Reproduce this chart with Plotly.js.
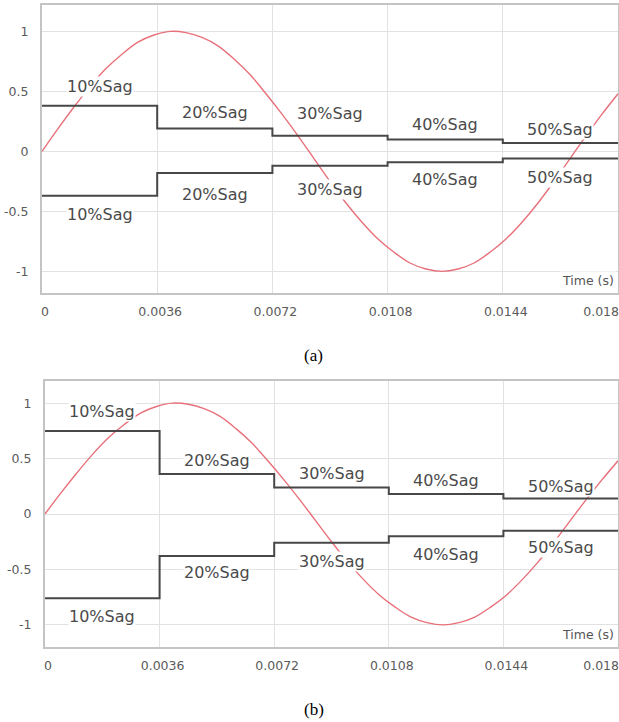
<!DOCTYPE html>
<html>
<head>
<meta charset="utf-8">
<script src="https://cdn.plot.ly/plotly-3.0.1.min.js"></script>
<style>html,body{margin:0;padding:0;background:#fff;}#chart{width:619px;height:722px;}</style>
</head>
<body>
<div id="chart"></div>
<script>
// ---- data ----
var stepTimes = [0, 0.0036, 0.0072, 0.0108, 0.0144, 0.018];
var sagLabels = ['10%Sag', '20%Sag', '30%Sag', '40%Sag', '50%Sag'];
var upperA = [0.38, 0.19, 0.13, 0.10, 0.07];
var lowerA = [-0.37, -0.18, -0.12, -0.09, -0.06];
var upperB = [0.75, 0.36, 0.24, 0.18, 0.14];
var lowerB = [-0.76, -0.38, -0.26, -0.20, -0.15];
var sineTime = [0, 0.0005, 0.001, 0.0015, 0.002, 0.0025, 0.003, 0.0035, 0.004, 0.0045,
  0.005, 0.0055, 0.006, 0.0065, 0.007, 0.0075, 0.008, 0.0085, 0.009, 0.0095,
  0.01, 0.0105, 0.011, 0.0115, 0.012, 0.0125, 0.013, 0.0135, 0.014, 0.0145,
  0.015, 0.0155, 0.016, 0.0165, 0.017, 0.0175, 0.018];
var sineValue = [0, 0.19, 0.37, 0.54, 0.69, 0.81, 0.91, 0.97, 1.0, 0.99,
  0.95, 0.88, 0.77, 0.64, 0.48, 0.31, 0.13, -0.06, -0.25, -0.43,
  -0.59, -0.73, -0.84, -0.93, -0.98, -1.0, -0.98, -0.93, -0.84, -0.73,
  -0.59, -0.43, -0.25, -0.06, 0.13, 0.31, 0.48];
var xTickVals = [0, 0.0036, 0.0072, 0.0108, 0.0144, 0.018];
var xTickText = ['0', '0.0036', '0.0072', '0.0108', '0.0144', '0.018'];
var yTickVals = [-1, -0.5, 0, 0.5, 1];
var yTickText = ['-1', '-0.5', '0', '0.5', '1'];
var xTitle = 'Time (s)';
var captions = ['(a)', '(b)'];

// ---- label offsets (pixels, style only) ----
var shiftUpA = [19, 16, 22, 15, 14];
var shiftDnA = [19, 21, 24, 17, 19];
var shiftUpB = [19, 14, 14, 14, 12];
var shiftDnB = [18, 16, 19, 18, 17];

function stepY(levels) { return levels.concat([levels[levels.length - 1]]); }

// last tick label sits on the right edge: pad it so it stays inside the page
var pad = new Array(11).join('\u00a0');
var xTickShown = xTickText.map(function (t, i) { return i === xTickText.length - 1 ? t + pad : t; });

var red = '#e8707a';
var dark = '#474747';
var traces = [];
function addPanel(xa, ya, up, dn) {
  traces.push({x: sineTime, y: sineValue, xaxis: xa, yaxis: ya, mode: 'lines',
    line: {color: red, width: 1.4, shape: 'spline'}, hoverinfo: 'skip'});
  traces.push({x: stepTimes, y: stepY(up), xaxis: xa, yaxis: ya, mode: 'lines',
    line: {color: dark, width: 2, shape: 'hv'}, hoverinfo: 'skip'});
  traces.push({x: stepTimes, y: stepY(dn), xaxis: xa, yaxis: ya, mode: 'lines',
    line: {color: dark, width: 2, shape: 'hv'}, hoverinfo: 'skip'});
}
addPanel('x', 'y', upperA, lowerA);
addPanel('x2', 'y2', upperB, lowerB);

var annotations = [];
var labelFont = {family: 'DejaVu Sans', size: 16, color: '#4a4a4a'};
function addLabels(xr, yr, up, dn, su, sd) {
  for (var i = 0; i < sagLabels.length; i++) {
    var mid = (stepTimes[i] + stepTimes[i + 1]) / 2;
    annotations.push({xref: xr, yref: yr, x: mid, y: up[i], yshift: su[i], text: sagLabels[i],
      showarrow: false, font: labelFont, bgcolor: '#ffffff', borderpad: 0,
      xanchor: 'center', yanchor: 'middle'});
    annotations.push({xref: xr, yref: yr, x: mid, y: dn[i], yshift: -sd[i], text: sagLabels[i],
      showarrow: false, font: labelFont, bgcolor: '#ffffff', borderpad: 0,
      xanchor: 'center', yanchor: 'middle'});
  }
  annotations.push({xref: xr + ' domain', yref: yr + ' domain', x: 0.997, y: 0.01, text: xTitle,
    showarrow: false, font: {family: 'DejaVu Sans', size: 12.5, color: '#555'}, bgcolor: '#ffffff',
    xanchor: 'right', yanchor: 'bottom'});
}
addLabels('x', 'y', upperA, lowerA, shiftUpA, shiftDnA);
addLabels('x2', 'y2', upperB, lowerB, shiftUpB, shiftDnB);

annotations.push({xref: 'paper', yref: 'paper', x: 313 / 619, y: 1 - 356 / 722, text: captions[0],
  showarrow: false, font: {family: 'Liberation Serif', size: 17, color: '#000'},
  xanchor: 'center', yanchor: 'middle'});
annotations.push({xref: 'paper', yref: 'paper', x: 314 / 619, y: 1 - 709 / 722, text: captions[1],
  showarrow: false, font: {family: 'Liberation Serif', size: 17, color: '#000'},
  xanchor: 'center', yanchor: 'middle'});

var tickFont = {family: 'DejaVu Sans', size: 12.5, color: '#5a5a5a'};
function xAxis(domain, anchor) {
  return {domain: domain, anchor: anchor, range: [0, 0.018], tickvals: xTickVals, ticktext: xTickShown,
    showgrid: true, gridcolor: '#e2e2e2', gridwidth: 1, zeroline: false,
    showline: true, mirror: true, linecolor: '#c4c4c4', linewidth: 2,
    ticks: '', ticklabelstandoff: 6, ticklabelshift: 3, ticklabeloverflow: 'allow',
    tickfont: tickFont, fixedrange: true};
}
function yAxis(domain, anchor, range) {
  return {domain: domain, anchor: anchor, range: range, tickvals: yTickVals, ticktext: yTickText,
    showgrid: true, gridcolor: '#e2e2e2', gridwidth: 1, zeroline: false,
    showline: true, mirror: true, linecolor: '#c4c4c4', linewidth: 2,
    ticks: '', ticklabelstandoff: 9, tickfont: tickFont, fixedrange: true};
}

var layout = {
  width: 619, height: 722,
  margin: {l: 0, r: 0, t: 0, b: 0},
  paper_bgcolor: '#ffffff', plot_bgcolor: '#ffffff',
  showlegend: false,
  xaxis: xAxis([42 / 619, 618 / 619], 'y'),
  yaxis: yAxis([1 - 293 / 722, 1 - 5 / 722], 'x', [-1.18, 1.22]),
  xaxis2: xAxis([45 / 619, 618 / 619], 'y2'),
  yaxis2: yAxis([1 - 647 / 722, 1 - 381 / 722], 'x2', [-1.2, 1.2]),
  annotations: annotations
};

Plotly.newPlot('chart', traces, layout, {staticPlot: true, displayModeBar: false});
</script>
</body>
</html>
